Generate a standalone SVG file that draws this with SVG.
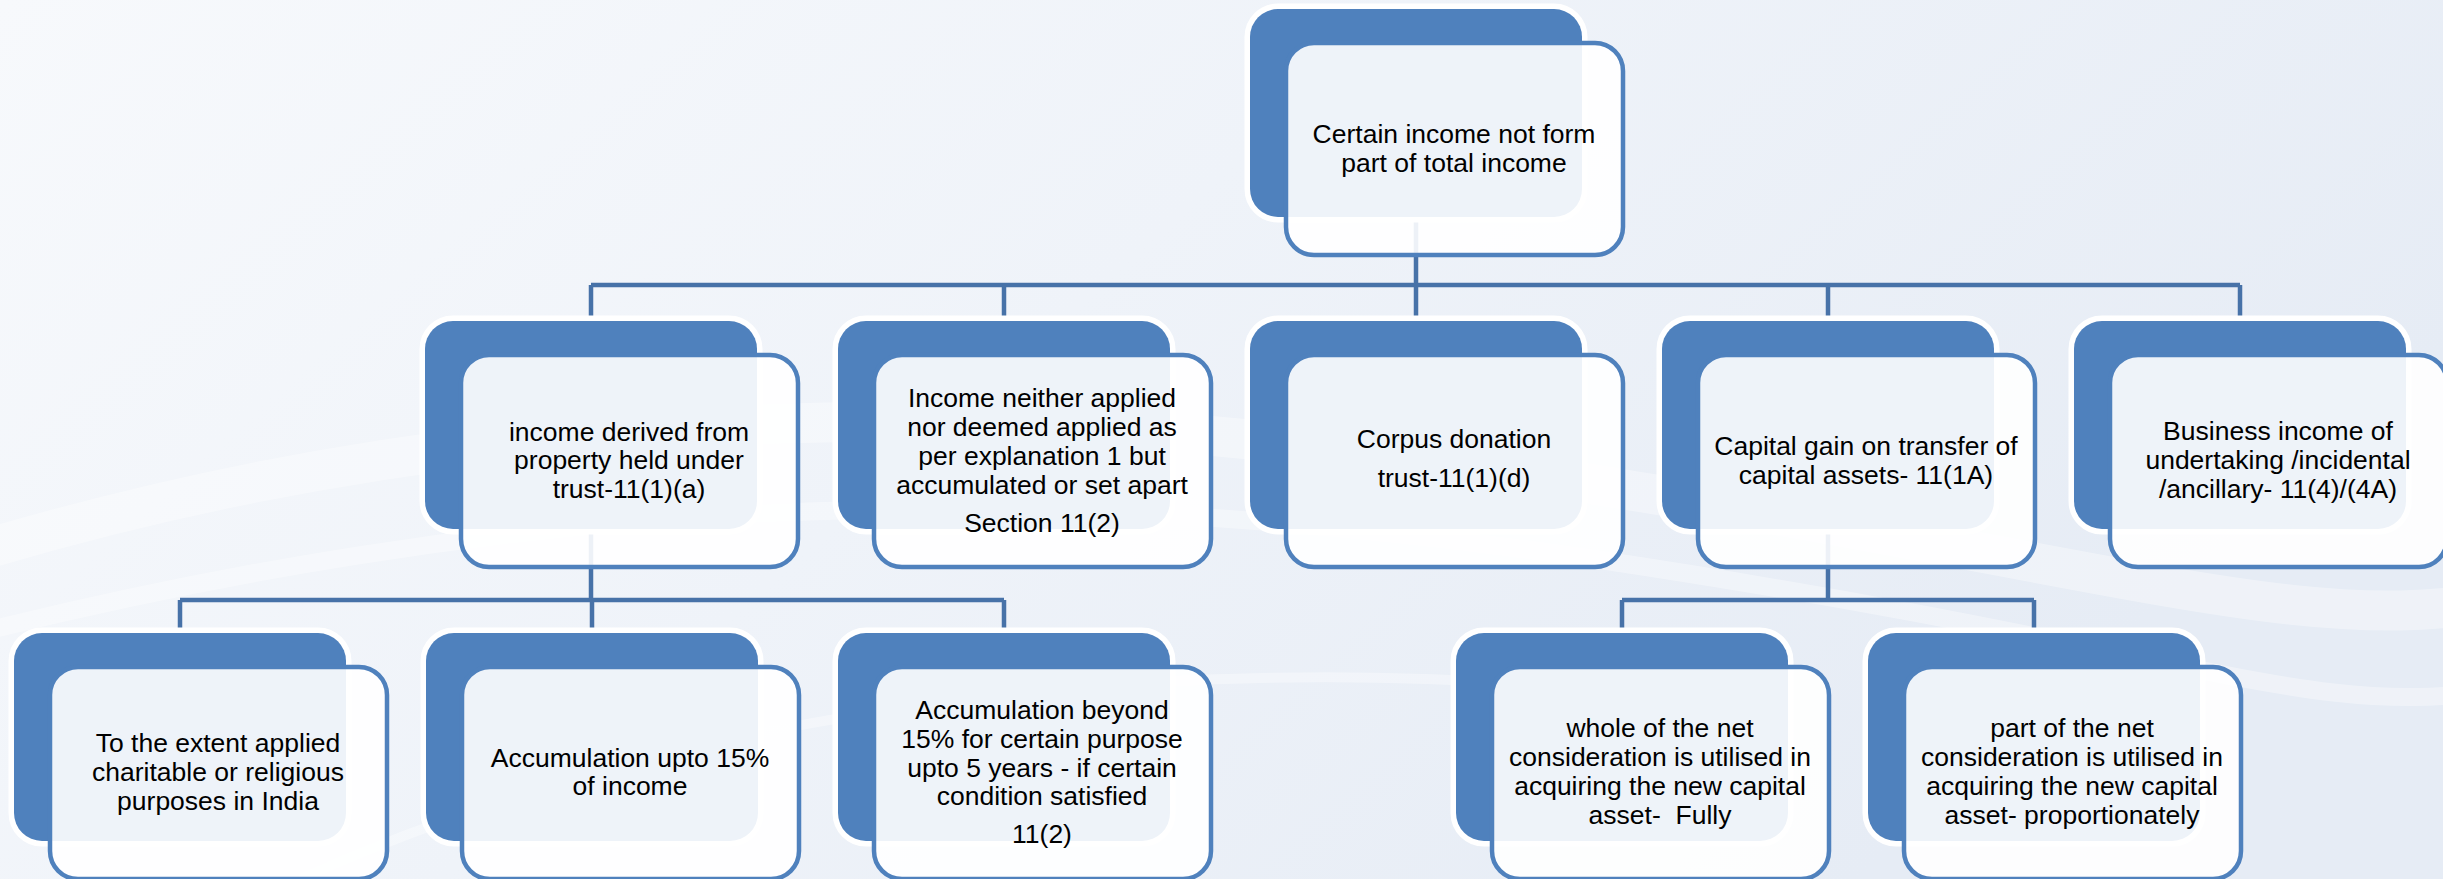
<svg xmlns="http://www.w3.org/2000/svg" width="2443" height="879" viewBox="0 0 2443 879">
<defs>
<linearGradient id="bg" x1="0" y1="0" x2="1" y2="0.4">
<stop offset="0" stop-color="#F7F9FC"/>
<stop offset="0.5" stop-color="#EFF3F9"/>
<stop offset="1" stop-color="#E6ECF5"/>
</linearGradient>
<style>
.back{fill:#4F81BD;stroke:#FFFFFF;stroke-width:11;paint-order:stroke fill}
.front{fill:#FFFFFF;fill-opacity:0.9;stroke:#4F81BD;stroke-width:4.5}
.conn{fill:none;stroke:#4772A8;stroke-width:4.5}
.t{font-family:"Liberation Sans",Arial,sans-serif;font-size:26.5px;fill:#000000;text-anchor:middle}
.sw{fill:none;stroke:#FFFFFF;stroke-opacity:0.35}
</style>
</defs>
<rect x="0" y="0" width="2443" height="879" fill="url(#bg)"/>
<g id="background-swooshes">
<path class="sw" stroke-width="40" d="M-50 560 C 400 420, 900 380, 1500 470 S 2300 640, 2500 600"/>
<path class="sw" stroke-width="18" d="M-50 640 C 500 500, 1000 470, 1600 560 S 2300 720, 2500 690"/>
<path class="sw" stroke-width="10" stroke-opacity="0.25" d="M300 879 C 700 700, 1200 640, 1700 700"/>
</g>
<g id="connectors">
<path class="conn" d="M1416 217 V285 M591 285 H2240 M591 285 V321 M1004 285 V321 M1416 285 V321 M1828 285 V321 M2240 285 V321"/>
<path class="conn" d="M591 529 V600 M180 600 H1004 M180 600 V633 M592 600 V633 M1004 600 V633"/>
<path class="conn" d="M1828 529 V600 M1622 600 H2034 M1622 600 V633 M2034 600 V633"/>
</g>
<g id="n0">
<rect class="back" x="1250" y="9" width="332" height="208" rx="28"/>
<rect class="front" x="1286" y="43" width="337" height="212" rx="28"/>
<text class="t"><tspan x="1454" y="143">Certain income not form</tspan><tspan x="1454" y="172">part of total income</tspan></text>
</g>
<g id="n1">
<rect class="back" x="425" y="321" width="332" height="208" rx="28"/>
<rect class="front" x="461" y="355" width="337" height="212" rx="28"/>
<text class="t"><tspan x="629" y="441">income derived from</tspan><tspan x="629" y="469">property held under</tspan><tspan x="629" y="498">trust-11(1)(a)</tspan></text>
</g>
<g id="n2">
<rect class="back" x="838" y="321" width="332" height="208" rx="28"/>
<rect class="front" x="874" y="355" width="337" height="212" rx="28"/>
<text class="t"><tspan x="1042" y="407">Income neither applied</tspan><tspan x="1042" y="436">nor deemed applied as</tspan><tspan x="1042" y="465">per explanation 1 but</tspan><tspan x="1042" y="494">accumulated or set apart</tspan><tspan x="1042" y="532">Section 11(2)</tspan></text>
</g>
<g id="n3">
<rect class="back" x="1250" y="321" width="332" height="208" rx="28"/>
<rect class="front" x="1286" y="355" width="337" height="212" rx="28"/>
<text class="t"><tspan x="1454" y="448">Corpus donation</tspan><tspan x="1454" y="487">trust-11(1)(d)</tspan></text>
</g>
<g id="n4">
<rect class="back" x="1662" y="321" width="332" height="208" rx="28"/>
<rect class="front" x="1698" y="355" width="337" height="212" rx="28"/>
<text class="t"><tspan x="1866" y="455">Capital gain on transfer of</tspan><tspan x="1866" y="484">capital assets- 11(1A)</tspan></text>
</g>
<g id="n5">
<rect class="back" x="2074" y="321" width="332" height="208" rx="28"/>
<rect class="front" x="2110" y="355" width="337" height="212" rx="28"/>
<text class="t"><tspan x="2278" y="440">Business income of</tspan><tspan x="2278" y="469">undertaking /incidental</tspan><tspan x="2278" y="498">/ancillary- 11(4)/(4A)</tspan></text>
</g>
<g id="n6">
<rect class="back" x="14" y="633" width="332" height="208" rx="28"/>
<rect class="front" x="50" y="667" width="337" height="212" rx="28"/>
<text class="t"><tspan x="218" y="752">To the extent applied</tspan><tspan x="218" y="781">charitable or religious</tspan><tspan x="218" y="810">purposes in India</tspan></text>
</g>
<g id="n7">
<rect class="back" x="426" y="633" width="332" height="208" rx="28"/>
<rect class="front" x="462" y="667" width="337" height="212" rx="28"/>
<text class="t"><tspan x="630" y="767">Accumulation upto 15%</tspan><tspan x="630" y="795">of income</tspan></text>
</g>
<g id="n8">
<rect class="back" x="838" y="633" width="332" height="208" rx="28"/>
<rect class="front" x="874" y="667" width="337" height="212" rx="28"/>
<text class="t"><tspan x="1042" y="719">Accumulation beyond</tspan><tspan x="1042" y="748">15% for certain purpose</tspan><tspan x="1042" y="777">upto 5 years - if certain</tspan><tspan x="1042" y="805">condition satisfied</tspan><tspan x="1042" y="843">11(2)</tspan></text>
</g>
<g id="n9">
<rect class="back" x="1456" y="633" width="332" height="208" rx="28"/>
<rect class="front" x="1492" y="667" width="337" height="212" rx="28"/>
<text class="t" xml:space="preserve" style="white-space:pre"><tspan x="1660" y="737">whole of the net</tspan><tspan x="1660" y="766">consideration is utilised in</tspan><tspan x="1660" y="795">acquiring the new capital</tspan><tspan x="1660" y="824">asset-  Fully</tspan></text>
</g>
<g id="n10">
<rect class="back" x="1868" y="633" width="332" height="208" rx="28"/>
<rect class="front" x="1904" y="667" width="337" height="212" rx="28"/>
<text class="t"><tspan x="2072" y="737">part of the net</tspan><tspan x="2072" y="766">consideration is utilised in</tspan><tspan x="2072" y="795">acquiring the new capital</tspan><tspan x="2072" y="824">asset- proportionately</tspan></text>
</g>
</svg>
